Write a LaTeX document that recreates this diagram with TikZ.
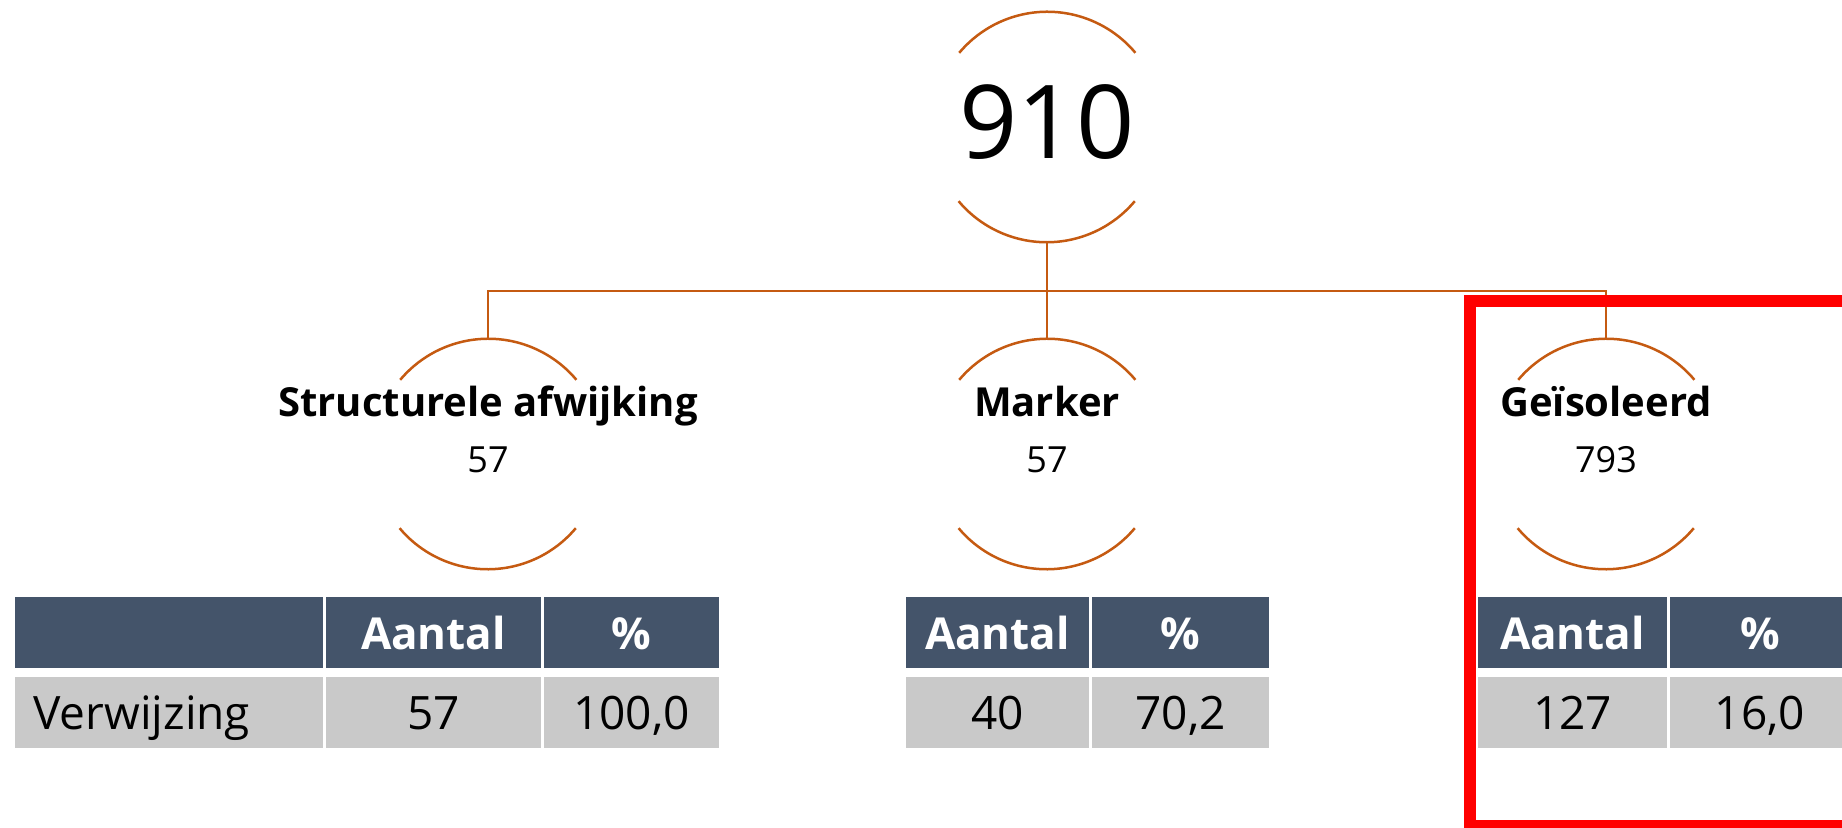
\documentclass[tikz,border=0pt]{standalone}
\usepackage{fontspec}
\setmainfont{Open Sans}
\definecolor{arcc}{HTML}{C55A11}
\definecolor{hdrc}{HTML}{44546A}
\definecolor{datc}{HTML}{C9C9C9}
\definecolor{redc}{HTML}{FF0000}
\begin{document}
\begin{tikzpicture}[x=0.5pt,y=-0.5pt,
  ring/.style={circle,minimum size=115pt,inner sep=0pt},
  arcline/.style={draw=arcc,line width=1.25pt},
  conn/.style={draw=arcc,line width=1.1pt},
  lbl/.style={font=\fontsize{20}{24}\selectfont\bfseries,anchor=base,inner sep=0pt},
  num/.style={font=\fontsize{18}{22}\selectfont,anchor=base,inner sep=0pt},
  big/.style={font=\fontsize{51}{60}\selectfont,anchor=base,inner sep=0pt},
  cellbase/.style={inner sep=0pt,minimum height=35.5pt,text height=16.5pt,text depth=0pt,font=\fontsize{23}{27}\selectfont},
  hdr/.style={cellbase,fill=hdrc,text=white,font=\fontsize{22}{27}\selectfont\bfseries},
  dat/.style={cellbase,fill=datc,text=black},
  redbox/.style={draw=redc,line width=6.2pt}
]
\clip (0,0) rectangle (1842,828);
\fill[white] (0,0) rectangle (1842,828);

% rings
\node[ring] (top) at (1047,127) {};
\node[ring] (c1) at (488,454) {};
\node[ring] (c2) at (1047,454) {};
\node[ring] (c3) at (1606,454) {};
\foreach \n in {top,c1,c2,c3}{
  \draw[arcline] (\n.40) arc[start angle=40,end angle=140,radius=57.5pt];
  \draw[arcline] (\n.220) arc[start angle=220,end angle=320,radius=57.5pt];
}

% connectors
\coordinate (b1) at (488,291);
\coordinate (b3) at (1606,291);
\draw[conn] (top.south) -- (c2.north);
\draw[conn] (c1.north) -- (b1) -- (b3) -- (c3.north);

% texts in rings
\node[big] (t910) at (1047,159) {910};
\node[lbl] (l1) at (488,417) {Structurele afwijking};
\node[num] (n1) at (488,473) {57};
\node[lbl] (l2) at (1047,417) {Marker};
\node[num] (n2) at (1047,473) {57};
\node[lbl] (l3) at (1606,417) {Geïsoleerd};
\node[num] (n3) at (1606,473) {793};

% left table
\node[hdr,minimum width=154pt] (a11) at (169,632.5) {};
\node[hdr,minimum width=107.5pt] (a12) at (433.5,632.5) {Aantal};
\node[hdr,minimum width=87.5pt] (a13) at (631.5,632.5) {\%};
\node[dat,minimum width=154pt] (a21) at (169,712.5) {};
\node[dat,minimum width=107.5pt] (a22) at (433.5,712.5) {57};
\node[dat,minimum width=87.5pt] (a23) at (631.5,712.5) {100,0};
\node[cellbase,anchor=west] (verw) at (33,712.5) {Verwijzing};

% middle table
\node[hdr,minimum width=91.5pt] (b11) at (997.5,632.5) {Aantal};
\node[hdr,minimum width=88.5pt] (b12) at (1180.5,632.5) {\%};
\node[dat,minimum width=91.5pt] (b21) at (997.5,712.5) {40};
\node[dat,minimum width=88.5pt] (b22) at (1180.5,712.5) {70,2};

% right table
\node[hdr,minimum width=94.5pt] (r11) at (1572.5,632.5) {Aantal};
\node[hdr,minimum width=90pt] (r12) at (1760,632.5) {\%};
\node[dat,minimum width=94.5pt] (r21) at (1572.5,712.5) {127};
\node[dat,minimum width=90pt] (r22) at (1760,712.5) {16,0};

% red highlight
\draw[redbox] (1470,301) rectangle (1880,826);
\end{tikzpicture}
\end{document}
